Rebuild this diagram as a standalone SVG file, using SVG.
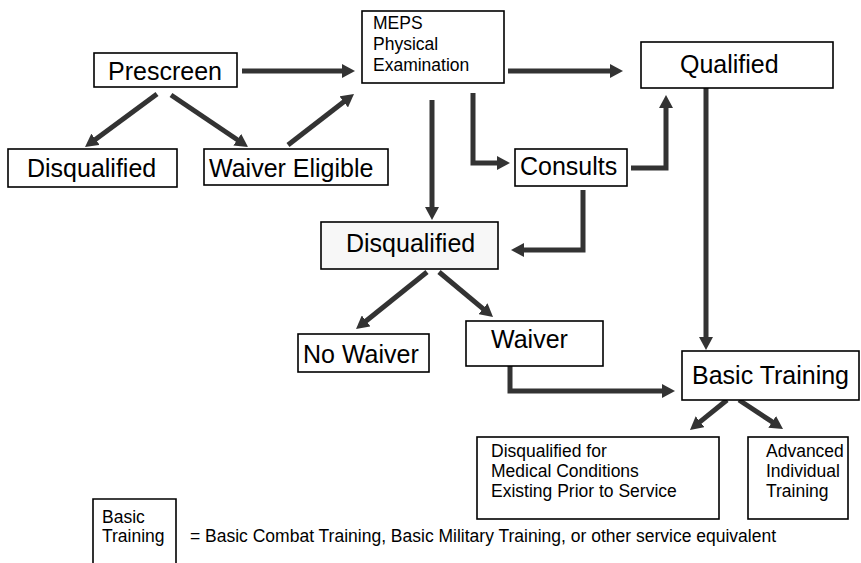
<svg xmlns="http://www.w3.org/2000/svg" width="861" height="563" viewBox="0 0 861 563">
<style>
.box{fill:#fff;stroke:#000;stroke-width:1.6}
.gray{fill:#f7f7f7}
.big{font-family:"Liberation Sans",Arial,Helvetica,sans-serif;font-size:25px;fill:#000}
.sm{font-family:"Liberation Sans",Arial,Helvetica,sans-serif;font-size:17.5px;fill:#000}
.arr{fill:none;stroke:#333;stroke-width:5;marker-end:url(#ah)}
</style>
<defs>
<marker id="ah" markerUnits="userSpaceOnUse" markerWidth="13" markerHeight="14" viewBox="0 0 13 14" refX="1" refY="7" orient="auto">
<path d="M0,0 L13,7 L0,14 z" fill="#333"/>
</marker>
</defs>
<rect width="861" height="563" fill="#fff"/>
<g id="connectors">
<line class="arr" x1="242" y1="71" x2="343" y2="71"/>
<line class="arr" x1="157" y1="94" x2="94.7" y2="139.9"/>
<line class="arr" x1="171" y1="95" x2="238.1" y2="140.3"/>
<line class="arr" x1="288" y1="145" x2="344.5" y2="101.3"/>
<line class="arr" x1="508" y1="71" x2="611" y2="71"/>
<polyline class="arr" points="473,93 473,163 498,163"/>
<polyline class="arr" points="631,168 666,168 666,107"/>
<line class="arr" x1="432" y1="100" x2="432" y2="208"/>
<polyline class="arr" points="583,190 583,250 523,250"/>
<line class="arr" x1="427" y1="272" x2="365.4" y2="321.5"/>
<line class="arr" x1="439" y1="272" x2="483.8" y2="309.3"/>
<line class="arr" x1="706" y1="88" x2="706" y2="338"/>
<polyline class="arr" points="510,366 510,391 663,391"/>
<line class="arr" x1="727" y1="400" x2="699.3" y2="422.4"/>
<line class="arr" x1="739" y1="400" x2="773" y2="422.4"/>
</g>
<g id="prescreen"><rect class="box" x="94" y="53" width="143" height="34"/><text class="big" x="108" y="80">Prescreen</text></g>
<g id="disqualified1"><rect class="box" x="8" y="149" width="169" height="38"/><text class="big" x="27" y="177">Disqualified</text></g>
<g id="waiver-eligible"><rect class="box" x="204" y="149" width="184" height="36"/><text class="big" x="209" y="177">Waiver Eligible</text></g>
<g id="meps"><rect class="box" x="362" y="11" width="142" height="72"/><text class="sm" x="373" y="29">MEPS</text><text class="sm" x="373" y="50">Physical</text><text class="sm" x="373" y="71">Examination</text></g>
<g id="qualified"><rect class="box" x="641" y="42" width="192" height="46"/><text class="big" x="680" y="73">Qualified</text></g>
<g id="consults"><rect class="box" x="515" y="149" width="112" height="37"/><text class="big" x="520" y="175">Consults</text></g>
<g id="disqualified2"><rect class="box gray" x="321" y="222" width="177" height="47"/><text class="big" x="346" y="252">Disqualified</text></g>
<g id="no-waiver"><rect class="box" x="298" y="334" width="131" height="38"/><text class="big" x="303" y="363">No Waiver</text></g>
<g id="waiver"><rect class="box" x="466" y="321" width="137" height="45"/><text class="big" x="491" y="348">Waiver</text></g>
<g id="basic-training"><rect class="box" x="682" y="351" width="177" height="49"/><text class="big" x="692" y="384">Basic Training</text></g>
<g id="disqualified-medical"><rect class="box" x="477" y="437" width="242" height="82"/><text class="sm" x="491" y="457">Disqualified for</text><text class="sm" x="491" y="477">Medical Conditions</text><text class="sm" x="491" y="497">Existing Prior to Service</text></g>
<g id="advanced"><rect class="box" x="748" y="437" width="100" height="82"/><text class="sm" x="766" y="457">Advanced</text><text class="sm" x="766" y="477">Individual</text><text class="sm" x="766" y="497">Training</text></g>
<g id="legend"><path d="M93,563 V499 H176 V563" fill="none" stroke="#000" stroke-width="1.6"/><text class="sm" x="102" y="523" font-size="16.5">Basic</text><text class="sm" x="102" y="542" font-size="16.5">Training</text><text class="sm" x="190" y="542" font-size="17">= Basic Combat Training, Basic Military Training, or other service equivalent</text></g>
</svg>
